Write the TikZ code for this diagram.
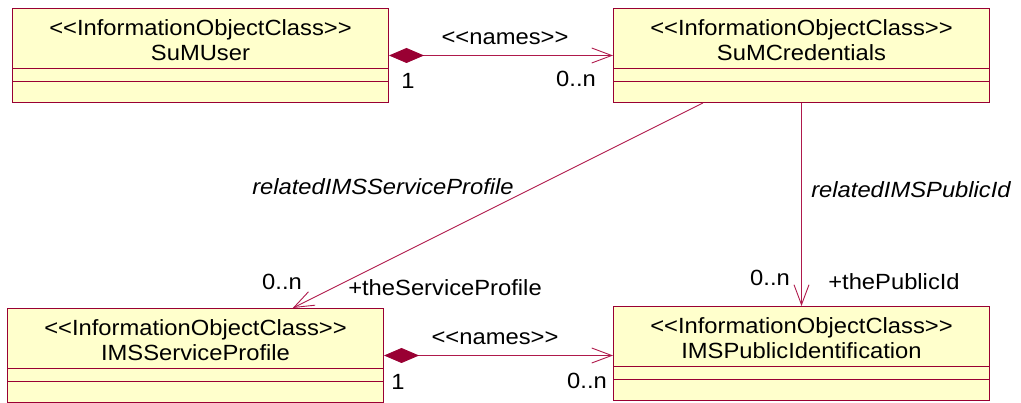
\documentclass[tikz,border=0pt]{standalone}
\usepackage{fontspec}
\setmainfont{Liberation Sans}[FakeStretch=1.08]
\usetikzlibrary{arrows.meta,calc}
\definecolor{umlred}{RGB}{153,0,51}
\definecolor{umlline}{RGB}{175,25,75}
\definecolor{umlfill}{RGB}{255,255,204}
% guillemet-style stereotype brackets written as plain angle pairs
\newcommand{\stlt}{<{}<}
\newcommand{\stgt}{>{}>}
\begin{document}
\begin{tikzpicture}[x=1pt,y=-1pt,
  cls/.style={draw=umlred, fill=umlfill, line width=1pt, anchor=north west,
    minimum width=376pt, minimum height=94pt, inner sep=0pt},
  ctitle/.style={align=center, font=\fontsize{22}{25}\selectfont, inner sep=0pt},
  lbl/.style={font=\fontsize{22}{25}\selectfont, inner sep=0pt},
  ilbl/.style={font=\fontsize{22}{25}\selectfont\itshape, inner sep=0pt},
  sep/.style={draw=umlred, line width=0.9pt},
  comp/.style={draw=umlline, line width=0.9pt,
    {Diamond[length=35pt,width=15pt,fill=umlred,color=umlred]}-{Straight Barb[length=20pt,width=15pt]}},
  nav/.style={draw=umlline, line width=0.9pt, -{Straight Barb[length=20pt,width=15pt]}}]
\useasboundingbox (0,0) rectangle (1021,403);

% class boxes
\node[cls] (user) at (12,8) {};
\node[cls] (cred) at (613,8) {};
\node[cls] (svc)  at (7,308) {};
\node[cls] (pub)  at (613,306) {};

\foreach \b/\n in {user/SuMUser, cred/SuMCredentials, svc/IMSServiceProfile, pub/IMSPublicIdentification}{
  \node[ctitle] (\b-title) at ([yshift=-32pt]\b.north) {\stlt InformationObjectClass\stgt\\\n};
  \draw[sep] ([yshift=-60pt]\b.north west) -- ([yshift=-60pt]\b.north east);
  \draw[sep] ([yshift=-73pt]\b.north west) -- ([yshift=-73pt]\b.north east);
}

% composition associations
\draw[comp] (user.east) -- (cred.west |- user.east);
\draw[comp] (svc.east) -- (pub.west |- svc.east);

% navigable associations
\coordinate (d1) at ($(cred.south west)!0.2387!(cred.south east)$);
\coordinate (d2) at ($(svc.north west)!0.758!(svc.north east)$);
\draw[nav] (d1) -- (d2);
\draw[nav] (cred.south) -- (pub.north);

% labels
\node[lbl] (n1) at (505,38) {\stlt names\stgt};
\node[lbl] (m1a) at (408,81) {1};
\node[lbl] (m1b) at (576,79) {0..n};
\node[lbl] (n2) at (495,338) {\stlt names\stgt};
\node[lbl] (m2a) at (398,382) {1};
\node[lbl] (m2b) at (587,381) {0..n};
\node[ilbl] (r1) at (383,187) {relatedIMSServiceProfile};
\node[ilbl] (r2) at (911,190) {relatedIMSPublicId};
\node[lbl] (m3) at (282,282) {0..n};
\node[lbl] (e3) at (445,288) {+theServiceProfile};
\node[lbl] (m4) at (770,278) {0..n};
\node[lbl] (e4) at (894,282) {+thePublicId};
\end{tikzpicture}
\end{document}
